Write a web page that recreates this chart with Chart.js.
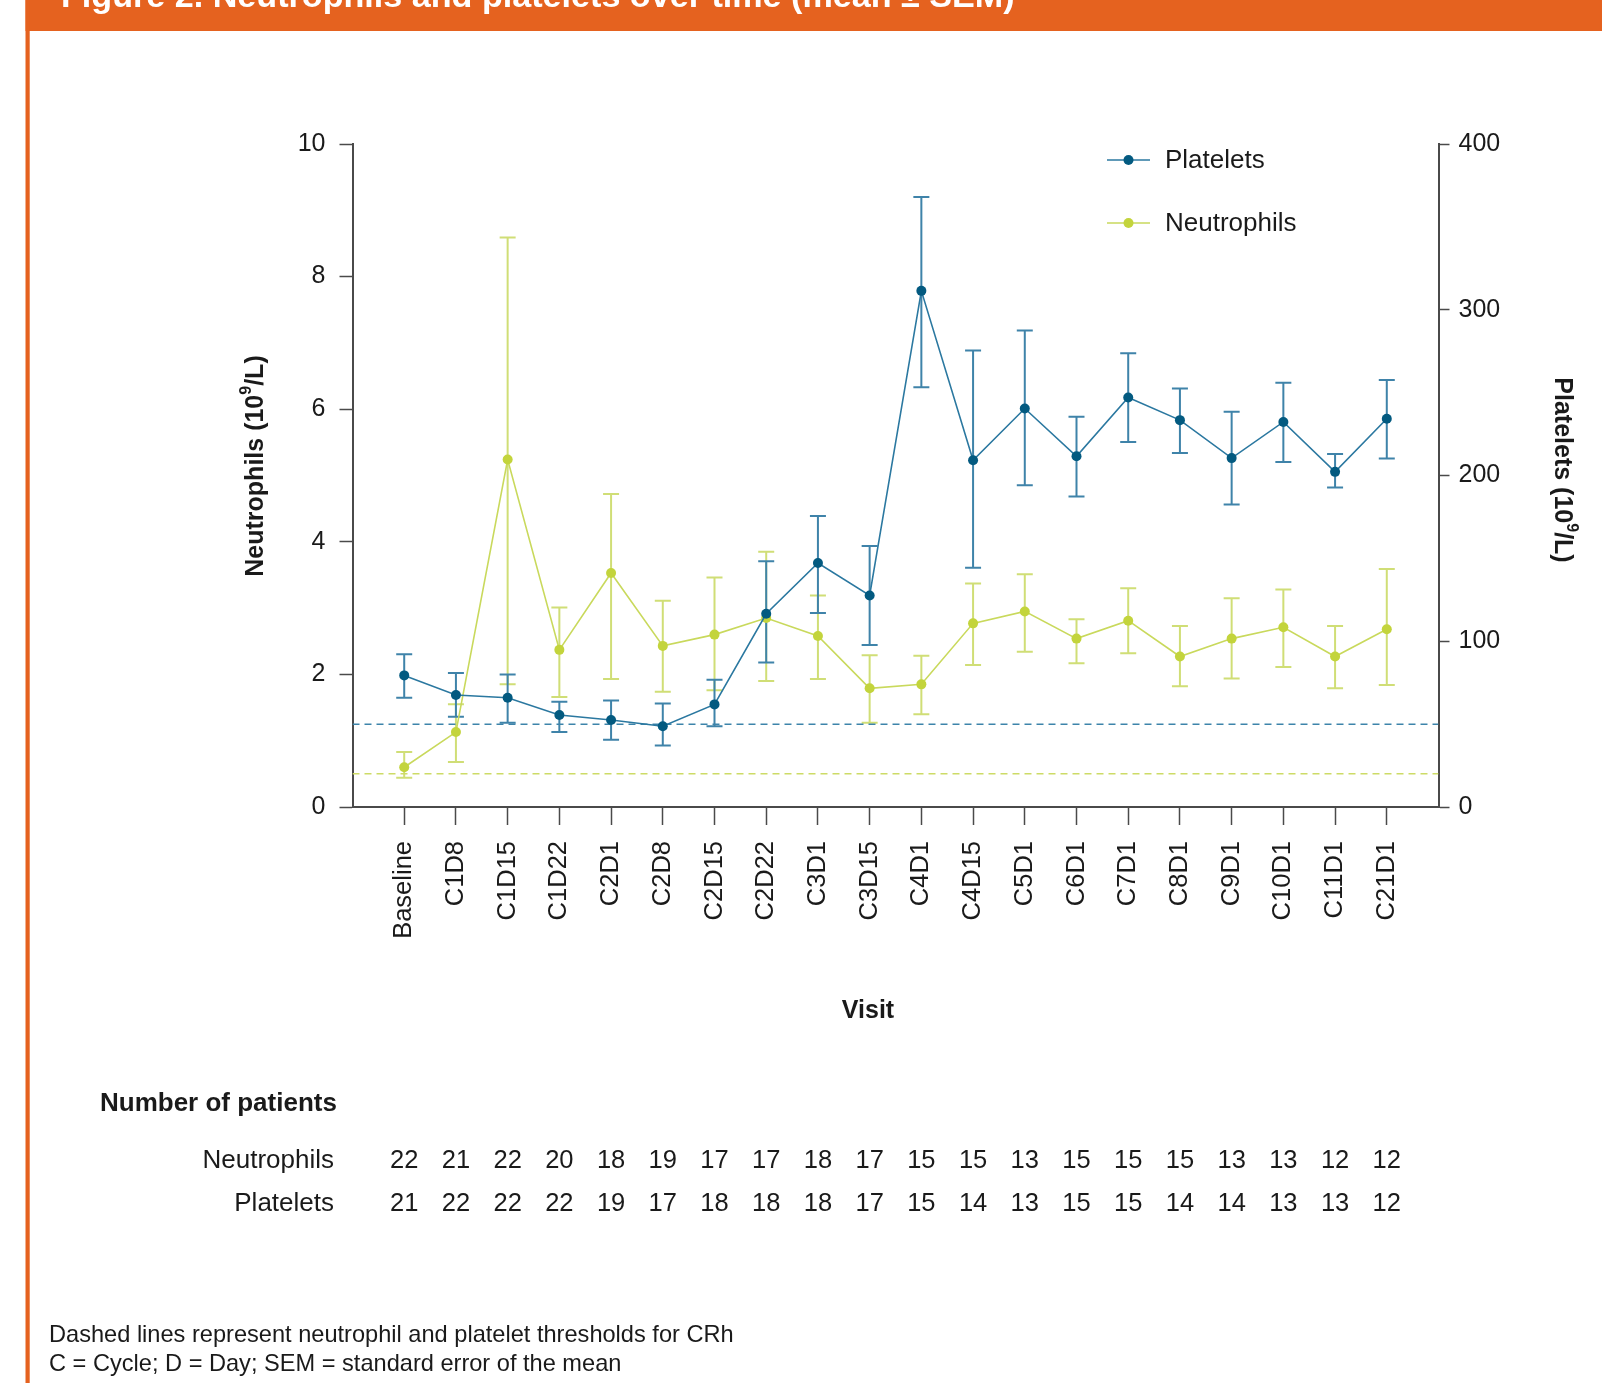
<!DOCTYPE html>
<html>
<head>
<meta charset="utf-8">
<title>Neutrophils and platelets over time</title>
<script src="https://cdn.jsdelivr.net/npm/chart.js@4.4.1/dist/chart.umd.min.js"></script>
<style>
  html, body { margin: 0; padding: 0; background: #ffffff; }
  canvas { display: block; }
</style>
</head>
<body>
<canvas id="chart" width="1602" height="1383"></canvas>
<script>
// Visits on the x axis
const visits = ['Baseline', 'C1D8', 'C1D15', 'C1D22', 'C2D1', 'C2D8', 'C2D15', 'C2D22', 'C3D1', 'C3D15',
                'C4D1', 'C4D15', 'C5D1', 'C6D1', 'C7D1', 'C8D1', 'C9D1', 'C10D1', 'C11D1', 'C21D1'];

// Platelets (10^9/L): mean, and the lower / upper ends of the SEM bars
const plateletMean  = [79.4, 67.6, 65.9, 55.5, 52.5, 48.7, 61.9, 116.6, 147.2, 127.6,
                       311.4, 209.2, 240.4, 211.6, 247.1, 233.4, 210.5, 232.3, 202.2, 234.2];
const plateletUpper = [92.1, 80.8, 79.9, 63.5, 64.3, 62.4, 76.7, 148.3, 175.5, 157.5,
                       368.0, 275.4, 287.5, 235.5, 273.8, 252.5, 238.5, 256.0, 212.9, 257.6];
const plateletLower = [65.9, 54.4, 50.9, 45.2, 40.6, 37.1, 48.7, 87.2, 117.1, 97.7,
                       253.3, 144.3, 194.1, 187.4, 220.2, 213.5, 182.5, 208.1, 192.7, 210.2];

// Neutrophils (10^9/L): mean, and the lower / upper ends of the SEM bars
const neutrophilMean  = [0.60, 1.13, 5.24, 2.37, 3.53, 2.43, 2.60, 2.85, 2.58, 1.79,
                         1.85, 2.77, 2.95, 2.54, 2.81, 2.27, 2.54, 2.71, 2.27, 2.68];
const neutrophilUpper = [0.83, 1.55, 8.59, 3.01, 4.72, 3.11, 3.46, 3.85, 3.19, 2.29,
                         2.28, 3.37, 3.51, 2.83, 3.30, 2.73, 3.15, 3.28, 2.73, 3.59];
const neutrophilLower = [0.44, 0.68, 1.85, 1.66, 1.93, 1.74, 1.76, 1.90, 1.93, 1.27,
                         1.40, 2.14, 2.34, 2.17, 2.32, 1.82, 1.94, 2.11, 1.79, 1.84];

// CRh thresholds
const neutrophilThreshold = 0.5;
const plateletThreshold = 50;

// Number of patients at each visit
const nNeutrophils = [22, 21, 22, 20, 18, 19, 17, 17, 18, 17, 15, 15, 13, 15, 15, 15, 13, 13, 12, 12];
const nPlatelets   = [21, 22, 22, 22, 19, 17, 18, 18, 18, 17, 15, 14, 13, 15, 15, 14, 14, 13, 13, 12];

// Axis ranges
const neutrophilAxis = { min: 0, max: 10, step: 2 };
const plateletAxis = { min: 0, max: 400, step: 100 };

const FONT = "'Liberation Sans', Arial, Helvetica, sans-serif";
const INK = '#1a1a1a';
const AXIS = '#4a4a4a';
const ORANGE = '#e5621f';

const PLT_POINT = '#035a80';
const PLT_LINE = '#2b78a0';
const PLT_ERR = '#3f83a9';
const PLT_DASH = '#3d84aa';
const NEU_POINT = '#c3d43c';
const NEU_LINE = '#c9d95c';
const NEU_ERR = '#d0de76';
const NEU_DASH = '#cddb66';

const toPoints = arr => arr.map((v, i) => ({ x: i, y: v }));
const lastIdx = visits.length;

// Draw centred text with a superscript part, e.g. 10^9
function drawRich(ctx, parts, size, bold) {
  const weight = bold ? 'bold ' : '';
  const supSize = Math.round(size * 0.62);
  let total = 0;
  parts.forEach(p => {
    ctx.font = weight + (p.sup ? supSize : size) + 'px ' + FONT;
    p.w = ctx.measureText(p.t).width;
    total += p.w;
  });
  let x = -total / 2;
  parts.forEach(p => {
    ctx.font = weight + (p.sup ? supSize : size) + 'px ' + FONT;
    ctx.fillText(p.t, x, p.sup ? -size * 0.38 : 0);
    x += p.w;
  });
}

const pagePlugin = {
  id: 'page',
  beforeDraw(chart) {
    const ctx = chart.ctx;
    ctx.save();
    ctx.fillStyle = '#ffffff';
    ctx.fillRect(0, 0, chart.width, chart.height);
    // header bar and left frame
    ctx.fillStyle = ORANGE;
    ctx.fillRect(25.5, 0, chart.width - 25.5, 31);
    ctx.fillRect(25.5, 0, 4.2, chart.height);
    // header title
    const title = 'Figure 2. Neutrophils and platelets over time (mean \u00B1 SEM)';
    ctx.font = 'bold 30px ' + FONT;
    const w30 = ctx.measureText(title).width;
    const size = 30 * 954 / w30;
    ctx.font = 'bold ' + size.toFixed(2) + 'px ' + FONT;
    ctx.fillStyle = '#ffffff';
    ctx.textBaseline = 'alphabetic';
    ctx.textAlign = 'left';
    ctx.fillText(title, 61, 7);
    ctx.restore();
  }
};

const errorBarPlugin = {
  id: 'errorBars',
  beforeDatasetsDraw(chart) {
    const ctx = chart.ctx;
    const x = chart.scales.x;
    ctx.save();
    [1, 0].forEach(di => {
      const ds = chart.data.datasets[di];
      if (!ds.upper) return;
      const y = chart.scales[ds.yAxisID];
      ctx.strokeStyle = ds.errColor;
      ctx.lineWidth = 2;
      ds.data.forEach((p, i) => {
        const px = x.getPixelForValue(p.x);
        const top = y.getPixelForValue(ds.upper[i]);
        const bot = y.getPixelForValue(ds.lower[i]);
        ctx.beginPath();
        ctx.moveTo(px, top); ctx.lineTo(px, bot);
        ctx.moveTo(px - 8, top); ctx.lineTo(px + 8, top);
        ctx.moveTo(px - 8, bot); ctx.lineTo(px + 8, bot);
        ctx.stroke();
      });
    });
    ctx.restore();
  }
};

const annotationPlugin = {
  id: 'annotations',
  afterDraw(chart) {
    const ctx = chart.ctx;
    const xs = chart.scales.x;
    ctx.save();
    ctx.fillStyle = INK;

    // legend
    const legend = [
      { label: 'Platelets', line: PLT_LINE, point: PLT_POINT, y: 160 },
      { label: 'Neutrophils', line: NEU_LINE, point: NEU_POINT, y: 223 }
    ];
    legend.forEach(item => {
      ctx.strokeStyle = item.line;
      ctx.lineWidth = 1.6;
      ctx.beginPath();
      ctx.moveTo(1107, item.y); ctx.lineTo(1150, item.y);
      ctx.stroke();
      ctx.fillStyle = item.point;
      ctx.beginPath();
      ctx.arc(1128.5, item.y, 5, 0, Math.PI * 2);
      ctx.fill();
      ctx.fillStyle = INK;
      ctx.font = '26px ' + FONT;
      ctx.textAlign = 'left';
      ctx.textBaseline = 'middle';
      ctx.fillText(item.label, 1165, item.y + 1);
    });

    // axis titles
    ctx.textBaseline = 'middle';
    ctx.textAlign = 'left';
    ctx.save();
    ctx.translate(256, 466);
    ctx.rotate(-Math.PI / 2);
    drawRich(ctx, [{ t: 'Neutrophils (10' }, { t: '9', sup: true }, { t: '/L)' }], 25, true);
    ctx.restore();

    ctx.save();
    ctx.translate(1562, 470);
    ctx.rotate(Math.PI / 2);
    drawRich(ctx, [{ t: 'Platelets (10' }, { t: '9', sup: true }, { t: '/L)' }], 25, true);
    ctx.restore();

    ctx.font = 'bold 25px ' + FONT;
    ctx.textAlign = 'center';
    ctx.fillText('Visit', 868, 1011);

    // number of patients table
    ctx.textAlign = 'left';
    ctx.font = 'bold 26px ' + FONT;
    ctx.fillText('Number of patients', 100, 1104);
    ctx.font = '26px ' + FONT;
    ctx.textAlign = 'right';
    ctx.fillText('Neutrophils', 334, 1161);
    ctx.fillText('Platelets', 334, 1204);
    ctx.font = '25.5px ' + FONT;
    ctx.textAlign = 'center';
    visits.forEach((v, i) => {
      const px = xs.getPixelForValue(i);
      ctx.fillText(String(nNeutrophils[i]), px, 1161);
      ctx.fillText(String(nPlatelets[i]), px, 1204);
    });

    // footnotes
    ctx.textAlign = 'left';
    ctx.font = '23.6px ' + FONT;
    ctx.fillText('Dashed lines represent neutrophil and platelet thresholds for CRh', 49, 1335);
    ctx.fillText('C = Cycle; D = Day; SEM = standard error of the mean', 49, 1364);
    ctx.restore();
  }
};

const yTickFont = { family: FONT, size: 25 };
const xTickFont = { family: FONT, size: 25.5 };

new Chart(document.getElementById('chart'), {
  type: 'line',
  data: {
    datasets: [
      {
        label: 'Platelets',
        data: toPoints(plateletMean),
        upper: plateletUpper,
        lower: plateletLower,
        errColor: PLT_ERR,
        yAxisID: 'yR',
        borderColor: PLT_LINE,
        borderWidth: 1.6,
        pointRadius: 5,
        pointBackgroundColor: PLT_POINT,
        pointBorderColor: PLT_POINT,
        pointBorderWidth: 0,
        tension: 0
      },
      {
        label: 'Neutrophils',
        data: toPoints(neutrophilMean),
        upper: neutrophilUpper,
        lower: neutrophilLower,
        errColor: NEU_ERR,
        yAxisID: 'yL',
        borderColor: NEU_LINE,
        borderWidth: 1.6,
        pointRadius: 5,
        pointBackgroundColor: NEU_POINT,
        pointBorderColor: NEU_POINT,
        pointBorderWidth: 0,
        tension: 0
      },
      {
        label: 'Platelet threshold',
        data: [{ x: -1, y: plateletThreshold }, { x: lastIdx, y: plateletThreshold }],
        yAxisID: 'yR',
        borderColor: PLT_DASH,
        borderWidth: 1.5,
        borderDash: [7, 5],
        pointRadius: 0
      },
      {
        label: 'Neutrophil threshold',
        data: [{ x: -1, y: neutrophilThreshold }, { x: lastIdx, y: neutrophilThreshold }],
        yAxisID: 'yL',
        borderColor: NEU_DASH,
        borderWidth: 1.5,
        borderDash: [7, 5],
        pointRadius: 0
      }
    ]
  },
  options: {
    responsive: false,
    animation: false,
    events: [],
    layout: { padding: { left: 100, right: 63.5, top: 144, bottom: 376 } },
    plugins: { legend: { display: false }, tooltip: { enabled: false } },
    scales: {
      x: {
        type: 'linear',
        min: -1,
        max: lastIdx,
        afterBuildTicks(axis) {
          const t = [];
          for (let i = -1; i <= lastIdx; i++) t.push({ value: i });
          axis.ticks = t;
        },
        afterFit(scale) { scale.height = 200; },
        ticks: {
          autoSkip: false,
          minRotation: 90,
          maxRotation: 90,
          padding: 16,
          color: INK,
          font: xTickFont,
          callback: v => (visits[v] !== undefined ? visits[v] : '')
        },
        grid: {
          drawOnChartArea: false,
          tickLength: 18,
          tickWidth: 1.5,
          tickColor: c => (c.tick && (c.tick.value < 0 || c.tick.value >= lastIdx)) ? 'rgba(0,0,0,0)' : AXIS
        },
        border: { color: AXIS, width: 2 }
      },
      yL: {
        position: 'left',
        min: neutrophilAxis.min,
        max: neutrophilAxis.max,
        afterFit(scale) { scale.width = 252.5; },
        ticks: { stepSize: neutrophilAxis.step, padding: 14, color: INK, font: yTickFont },
        grid: { drawOnChartArea: false, tickLength: 13, tickWidth: 1.5, tickColor: AXIS },
        border: { color: AXIS, width: 2 }
      },
      yR: {
        position: 'right',
        min: plateletAxis.min,
        max: plateletAxis.max,
        afterFit(scale) { scale.width = 100; },
        ticks: { stepSize: plateletAxis.step, padding: 9, color: INK, font: yTickFont },
        grid: { drawOnChartArea: false, tickLength: 11, tickWidth: 1.5, tickColor: AXIS },
        border: { color: AXIS, width: 2 }
      }
    }
  },
  plugins: [pagePlugin, errorBarPlugin, annotationPlugin]
});
</script>
</body>
</html>
